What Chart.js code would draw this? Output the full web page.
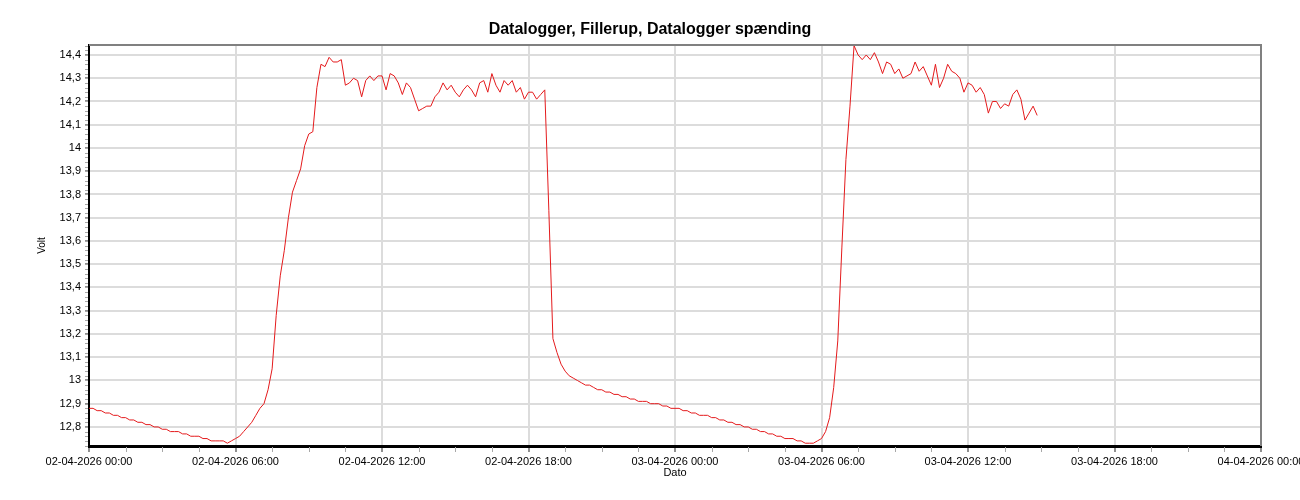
<!DOCTYPE html>
<html>
<head>
<meta charset="utf-8">
<script src="https://cdn.jsdelivr.net/npm/chart.js@4.4.1/dist/chart.umd.min.js"></script>
<style>
html,body{margin:0;padding:0;background:#fff;}
#wrap{width:1300px;height:500px;}
</style>
</head>
<body>
<div id="wrap"><canvas id="c" width="1300" height="500"></canvas></div>
<script>
const chartTitle = 'Datalogger, Fillerup, Datalogger spænding';
const yAxisTitle = 'Volt';
const xAxisTitle = 'Dato';
const sampleIntervalMin = 10; // logger samples every 10 minutes from 02-04-2026 00:00
const volts = [
  12.88,12.88,12.87,12.87,12.86,12.86,12.85,12.85,12.84,12.84,
  12.83,12.83,12.82,12.82,12.81,12.81,12.80,12.80,12.79,12.79,
  12.78,12.78,12.78,12.77,12.77,12.76,12.76,12.76,12.75,12.75,
  12.74,12.74,12.74,12.74,12.73,12.74,12.75,12.76,12.78,12.80,
  12.82,12.85,12.88,12.90,12.96,13.05,13.28,13.45,13.56,13.70,
  13.81,13.86,13.91,14.01,14.06,14.07,14.26,14.36,14.35,14.39,
  14.37,14.37,14.38,14.27,14.28,14.30,14.29,14.22,14.29,14.31,
  14.29,14.31,14.31,14.25,14.32,14.31,14.28,14.23,14.28,14.26,
  14.21,14.16,14.17,14.18,14.18,14.22,14.24,14.28,14.25,14.27,
  14.24,14.22,14.25,14.27,14.25,14.22,14.28,14.29,14.24,14.32,
  14.27,14.24,14.29,14.27,14.29,14.24,14.26,14.21,14.24,14.24,
  14.21,14.23,14.25,13.73,13.18,13.12,13.07,13.04,13.02,13.01,
  13.00,12.99,12.98,12.98,12.97,12.96,12.96,12.95,12.95,12.94,
  12.94,12.93,12.93,12.92,12.92,12.91,12.91,12.91,12.90,12.90,
  12.90,12.89,12.89,12.88,12.88,12.88,12.87,12.87,12.86,12.86,
  12.85,12.85,12.85,12.84,12.84,12.83,12.83,12.82,12.82,12.81,
  12.81,12.80,12.80,12.79,12.79,12.78,12.78,12.77,12.77,12.76,
  12.76,12.75,12.75,12.75,12.74,12.74,12.73,12.73,12.73,12.74,
  12.75,12.78,12.84,12.97,13.17,13.57,13.95,14.18,14.44,14.40,
  14.38,14.40,14.38,14.41,14.37,14.32,14.37,14.36,14.32,14.34,
  14.30,14.31,14.32,14.37,14.33,14.35,14.31,14.27,14.36,14.26,
  14.30,14.36,14.33,14.32,14.30,14.24,14.28,14.27,14.24,14.26,
  14.23,14.15,14.20,14.20,14.17,14.19,14.18,14.23,14.25,14.21,
  14.12,14.15,14.18,14.14
];
const xTickMinutes = [0,360,720,1080,1440,1800,2160,2520,2880];
const xTickLabels = ['02-04-2026 00:00','02-04-2026 06:00','02-04-2026 12:00','02-04-2026 18:00',
  '03-04-2026 00:00','03-04-2026 06:00','03-04-2026 12:00','03-04-2026 18:00','04-04-2026 00:00'];
const yMin = 12.718, yMax = 14.443, yStep = 0.1, yMinorStep = 0.02;
const xMinorStepMin = 90;

const FONT = "'Liberation Sans', Arial, sans-serif";

const framePlugin = {
  id: 'frame',
  afterDraw(chart) {
    const {ctx, chartArea: a, scales: {x, y}} = chart;
    ctx.save();
    ctx.strokeStyle = '#a8a8a8';
    ctx.lineWidth = 1;
    ctx.beginPath();
    for (let v = 12.72; v <= yMax + 1e-9; v += yMinorStep) {
      const py = Math.round(y.getPixelForValue(v)) + 0.5;
      ctx.moveTo(a.left - 4, py); ctx.lineTo(a.left - 1, py);
    }
    for (let m = 0; m <= 2880; m += xMinorStepMin) {
      if (m % 360 === 0) continue;
      const px = Math.round(x.getPixelForValue(m)) + 0.5;
      ctx.moveTo(px, a.bottom + 1); ctx.lineTo(px, a.bottom + 6);
    }
    ctx.stroke();
    ctx.strokeStyle = '#808080';
    ctx.lineWidth = 2;
    ctx.beginPath();
    ctx.moveTo(a.left, a.top); ctx.lineTo(a.right, a.top); ctx.lineTo(a.right, a.bottom);
    ctx.stroke();
    ctx.restore();
  }
};

function fmtVolt(v) {
  const r = Math.round(v * 10) / 10;
  if (Math.abs(r - Math.round(r)) < 1e-9) return String(Math.round(r));
  return r.toFixed(1).replace('.', ',');
}

new Chart(document.getElementById('c'), {
  type: 'line',
  data: {
    datasets: [{
      data: volts.map((v, i) => ({x: i * sampleIntervalMin, y: v})),
      borderColor: 'rgb(228,26,28)',
      borderWidth: 1,
      pointRadius: 0,
      tension: 0,
      fill: false
    }]
  },
  options: {
    responsive: false,
    animation: false,
    devicePixelRatio: 1,
    layout: {padding: {left: 0, right: 0, top: 0, bottom: 0}},
    plugins: {
      legend: {display: false},
      tooltip: {enabled: false},
      title: {
        display: true, text: chartTitle, color: '#000',
        font: {family: FONT, size: 16, weight: 'bold'},
        padding: {top: 19.5, bottom: 6.3}
      }
    },
    scales: {
      x: {
        type: 'linear', min: 0, max: 2880,
        afterBuildTicks: s => { s.ticks = xTickMinutes.map(m => ({value: m})); },
        ticks: {
          autoSkip: false, maxRotation: 0, minRotation: 0, color: '#000',
          font: {family: FONT, size: 11}, padding: 3,
          callback: v => { const i = xTickMinutes.indexOf(v); return i >= 0 ? xTickLabels[i] : ''; }
        },
        grid: {color: '#dcdcdc', lineWidth: 2, tickLength: 6, tickColor: '#909090'},
        border: {color: '#000', width: 3},
        title: {display: true, text: xAxisTitle, color: '#000', font: {family: FONT, size: 11}, padding: {top: 0, bottom: 20}},
        afterFit: s => { s.height = 54; s.paddingLeft = 0; s.paddingRight = 0; }
      },
      y: {
        min: yMin, max: yMax,
        ticks: {
          stepSize: yStep, includeBounds: false, color: '#000',
          font: {family: FONT, size: 11}, padding: 4,
          callback: v => fmtVolt(v)
        },
        grid: {color: '#dcdcdc', lineWidth: 2, tickLength: 4, tickColor: '#909090'},
        border: {color: '#000', width: 2},
        title: {display: true, text: yAxisTitle, color: '#000', font: {family: FONT, size: 10}, padding: {top: 36, bottom: 0}},
        afterFit: s => { s.width = 89; }
      },
      yRightSpace: {
        position: 'right', min: yMin, max: yMax,
        ticks: {display: false},
        grid: {display: false, drawTicks: false},
        border: {display: false},
        afterFit: s => { s.width = 39; s.paddingTop = 0; s.paddingBottom = 0; }
      }
    }
  },
  plugins: [framePlugin]
});
</script>
</body>
</html>
